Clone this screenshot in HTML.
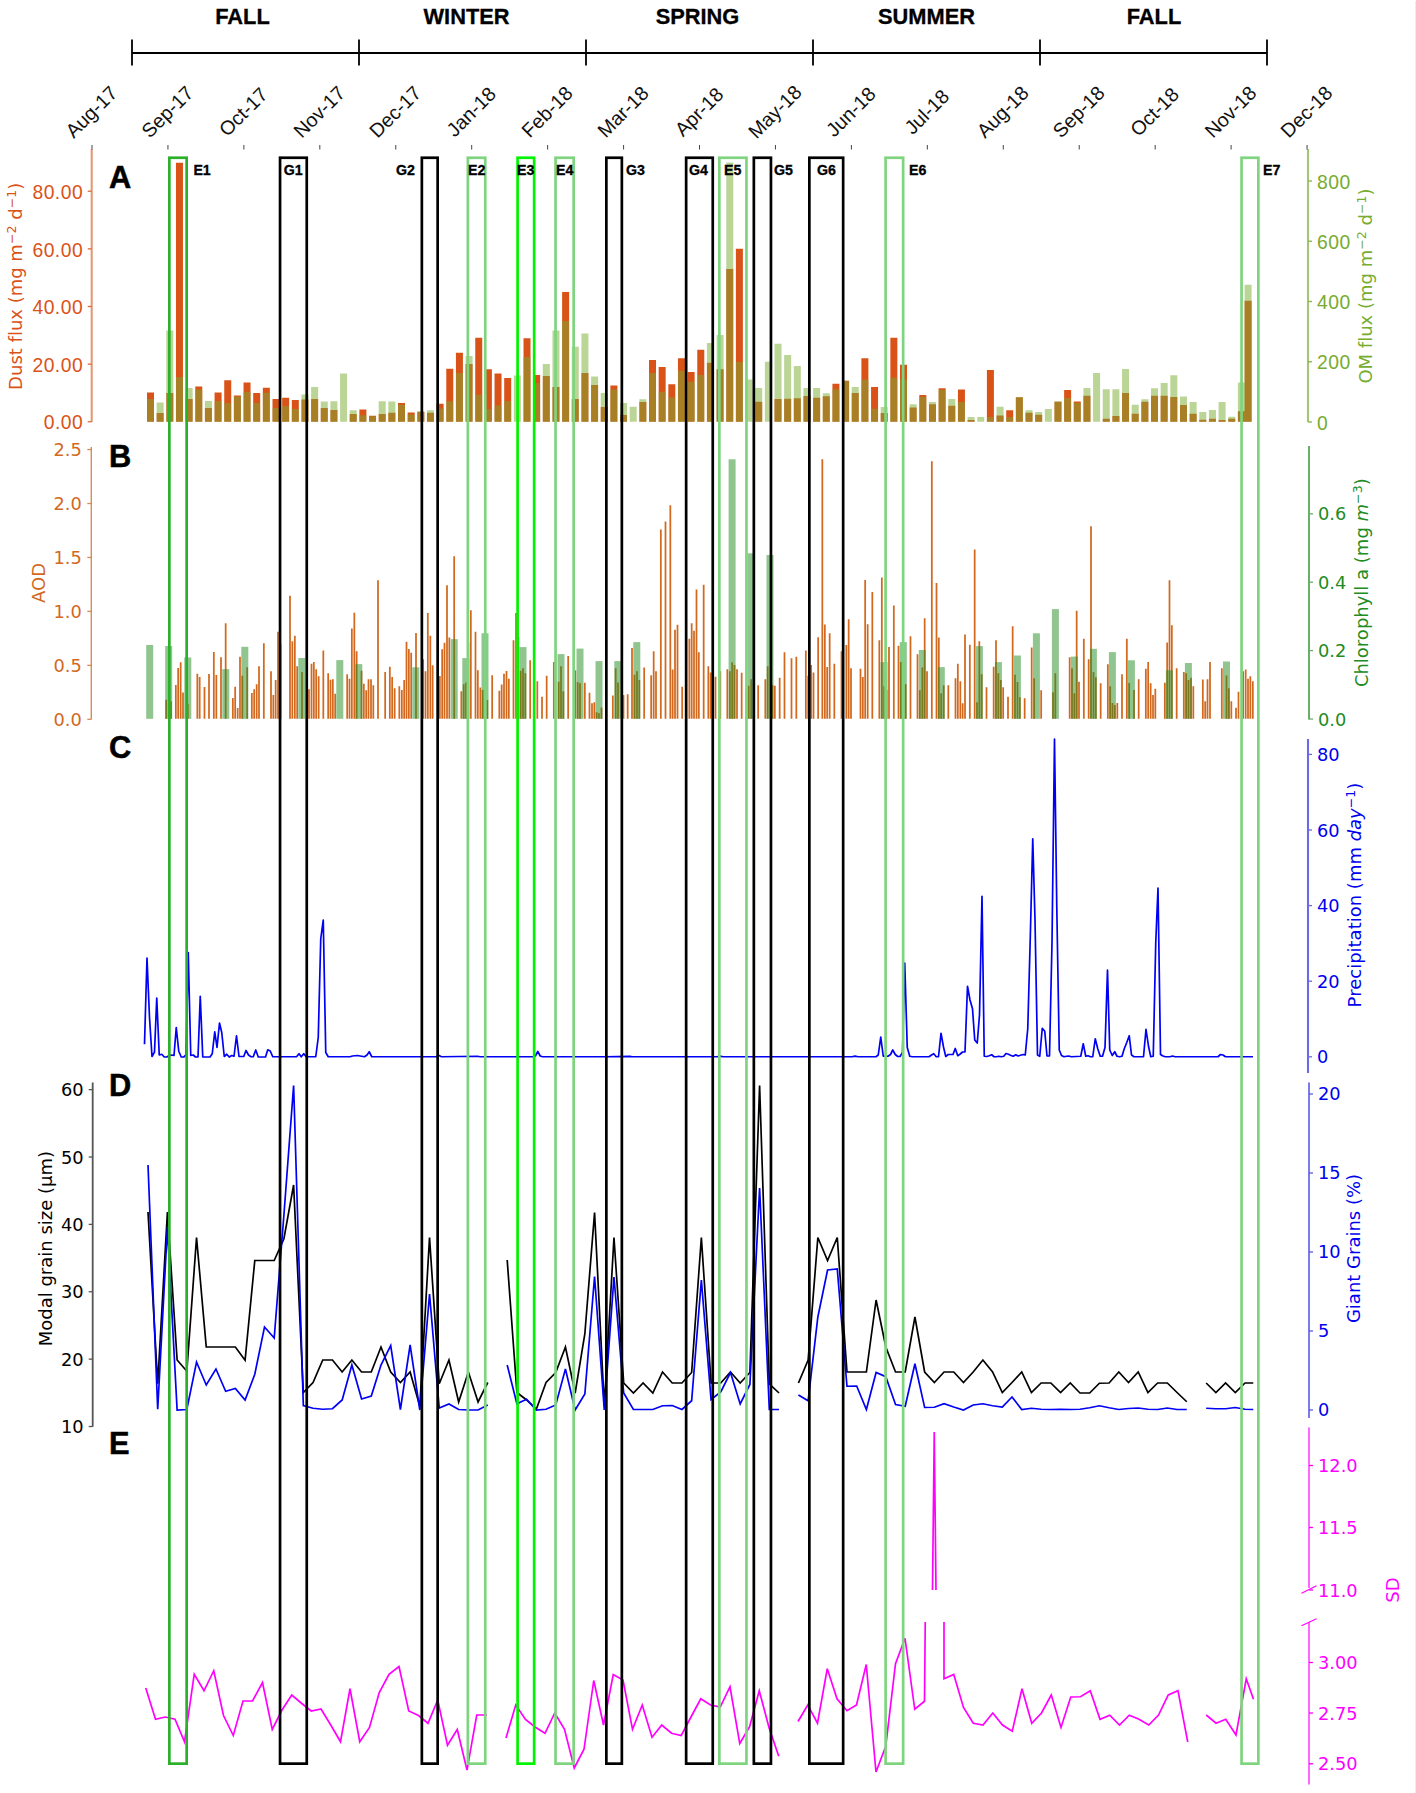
<!DOCTYPE html>
<html lang="en"><head><meta charset="utf-8"><title>Figure</title>
<style>html,body{margin:0;padding:0;background:#fff}svg text{white-space:pre;font-variant-ligatures:none}</style></head>
<body>
<svg width="1416" height="1793" viewBox="0 0 1416 1793" style="display:block">
<rect width="1416" height="1793" fill="#fff"/>
<g stroke="#000" stroke-width="1.8" fill="none">
<path d="M132 53H1267"/>
<path d="M132 39.5V65.5"/>
<path d="M359 39.5V65.5"/>
<path d="M586 39.5V65.5"/>
<path d="M813 39.5V65.5"/>
<path d="M1040 39.5V65.5"/>
<path d="M1267 39.5V65.5"/>
</g>
<text x="242.5" y="24" text-anchor="middle" font-family='"Liberation Sans", sans-serif' font-weight="700" font-size="21.8" stroke="#000" stroke-width="0.3">FALL</text>
<text x="466.5" y="24" text-anchor="middle" font-family='"Liberation Sans", sans-serif' font-weight="700" font-size="21.8" stroke="#000" stroke-width="0.3">WINTER</text>
<text x="697.5" y="24" text-anchor="middle" font-family='"Liberation Sans", sans-serif' font-weight="700" font-size="21.8" stroke="#000" stroke-width="0.3">SPRING</text>
<text x="926.5" y="24" text-anchor="middle" font-family='"Liberation Sans", sans-serif' font-weight="700" font-size="21.8" stroke="#000" stroke-width="0.3">SUMMER</text>
<text x="1154" y="24" text-anchor="middle" font-family='"Liberation Sans", sans-serif' font-weight="700" font-size="21.8" stroke="#000" stroke-width="0.3">FALL</text>
<text class="mon" transform="translate(91.3,111.7) rotate(-45)" text-anchor="middle" dominant-baseline="central" font-family='"Liberation Sans", sans-serif' font-size="19.7" fill="#111">Aug-17</text>
<text class="mon" transform="translate(167.24,111.7) rotate(-45)" text-anchor="middle" dominant-baseline="central" font-family='"Liberation Sans", sans-serif' font-size="19.7" fill="#111">Sep-17</text>
<text class="mon" transform="translate(243.18,111.7) rotate(-45)" text-anchor="middle" dominant-baseline="central" font-family='"Liberation Sans", sans-serif' font-size="19.7" fill="#111">Oct-17</text>
<text class="mon" transform="translate(319.12,111.7) rotate(-45)" text-anchor="middle" dominant-baseline="central" font-family='"Liberation Sans", sans-serif' font-size="19.7" fill="#111">Nov-17</text>
<text class="mon" transform="translate(395.06,111.7) rotate(-45)" text-anchor="middle" dominant-baseline="central" font-family='"Liberation Sans", sans-serif' font-size="19.7" fill="#111">Dec-17</text>
<text class="mon" transform="translate(471,111.7) rotate(-45)" text-anchor="middle" dominant-baseline="central" font-family='"Liberation Sans", sans-serif' font-size="19.7" fill="#111">Jan-18</text>
<text class="mon" transform="translate(546.94,111.7) rotate(-45)" text-anchor="middle" dominant-baseline="central" font-family='"Liberation Sans", sans-serif' font-size="19.7" fill="#111">Feb-18</text>
<text class="mon" transform="translate(622.88,111.7) rotate(-45)" text-anchor="middle" dominant-baseline="central" font-family='"Liberation Sans", sans-serif' font-size="19.7" fill="#111">Mar-18</text>
<text class="mon" transform="translate(698.82,111.7) rotate(-45)" text-anchor="middle" dominant-baseline="central" font-family='"Liberation Sans", sans-serif' font-size="19.7" fill="#111">Apr-18</text>
<text class="mon" transform="translate(774.76,111.7) rotate(-45)" text-anchor="middle" dominant-baseline="central" font-family='"Liberation Sans", sans-serif' font-size="19.7" fill="#111">May-18</text>
<text class="mon" transform="translate(850.7,111.7) rotate(-45)" text-anchor="middle" dominant-baseline="central" font-family='"Liberation Sans", sans-serif' font-size="19.7" fill="#111">Jun-18</text>
<text class="mon" transform="translate(926.64,111.7) rotate(-45)" text-anchor="middle" dominant-baseline="central" font-family='"Liberation Sans", sans-serif' font-size="19.7" fill="#111">Jul-18</text>
<text class="mon" transform="translate(1002.58,111.7) rotate(-45)" text-anchor="middle" dominant-baseline="central" font-family='"Liberation Sans", sans-serif' font-size="19.7" fill="#111">Aug-18</text>
<text class="mon" transform="translate(1078.52,111.7) rotate(-45)" text-anchor="middle" dominant-baseline="central" font-family='"Liberation Sans", sans-serif' font-size="19.7" fill="#111">Sep-18</text>
<text class="mon" transform="translate(1154.46,111.7) rotate(-45)" text-anchor="middle" dominant-baseline="central" font-family='"Liberation Sans", sans-serif' font-size="19.7" fill="#111">Oct-18</text>
<text class="mon" transform="translate(1230.4,111.7) rotate(-45)" text-anchor="middle" dominant-baseline="central" font-family='"Liberation Sans", sans-serif' font-size="19.7" fill="#111">Nov-18</text>
<text class="mon" transform="translate(1306.34,111.7) rotate(-45)" text-anchor="middle" dominant-baseline="central" font-family='"Liberation Sans", sans-serif' font-size="19.7" fill="#111">Dec-18</text>
<g fill="#d95319">
<rect x="147" y="392.5" width="7" height="29.25"/>
<rect x="156.65" y="413" width="7" height="8.75"/>
<rect x="166.31" y="393" width="7" height="28.75"/>
<rect x="175.96" y="162.75" width="7" height="259"/>
<rect x="185.62" y="399" width="7" height="22.75"/>
<rect x="195.27" y="386.5" width="7" height="35.25"/>
<rect x="204.92" y="408" width="7" height="13.75"/>
<rect x="214.58" y="392.5" width="7" height="29.25"/>
<rect x="224.23" y="380.25" width="7" height="41.5"/>
<rect x="233.89" y="395.5" width="7" height="26.25"/>
<rect x="243.54" y="382.5" width="7" height="39.25"/>
<rect x="253.19" y="393" width="7" height="28.75"/>
<rect x="262.85" y="387.75" width="7" height="34"/>
<rect x="272.5" y="399" width="7" height="22.75"/>
<rect x="282.16" y="397.75" width="7" height="24"/>
<rect x="291.81" y="400" width="7" height="21.75"/>
<rect x="301.46" y="399.5" width="7" height="22.25"/>
<rect x="311.12" y="399" width="7" height="22.75"/>
<rect x="320.77" y="408" width="7" height="13.75"/>
<rect x="330.43" y="410" width="7" height="11.75"/>
<rect x="349.73" y="414" width="7" height="7.75"/>
<rect x="359.39" y="409.5" width="7" height="12.25"/>
<rect x="369.04" y="415.75" width="7" height="6"/>
<rect x="378.7" y="414" width="7" height="7.75"/>
<rect x="388.35" y="412.75" width="7" height="9"/>
<rect x="398" y="403" width="7" height="18.75"/>
<rect x="407.66" y="412.5" width="7" height="9.25"/>
<rect x="417.31" y="412" width="7" height="9.75"/>
<rect x="426.97" y="412.75" width="7" height="9"/>
<rect x="436.62" y="403.75" width="7" height="18"/>
<rect x="446.27" y="368.75" width="7" height="53"/>
<rect x="455.93" y="352.75" width="7" height="69"/>
<rect x="465.58" y="364" width="7" height="57.75"/>
<rect x="475.24" y="337.75" width="7" height="84"/>
<rect x="484.89" y="369.25" width="7" height="52.5"/>
<rect x="494.54" y="373.5" width="7" height="48.25"/>
<rect x="504.2" y="378" width="7" height="43.75"/>
<rect x="523.51" y="338.25" width="7" height="83.5"/>
<rect x="533.16" y="375" width="7" height="46.75"/>
<rect x="542.81" y="376" width="7" height="45.75"/>
<rect x="552.47" y="387" width="7" height="34.75"/>
<rect x="562.12" y="291.95" width="7" height="129.8"/>
<rect x="571.78" y="399" width="7" height="22.75"/>
<rect x="581.43" y="373" width="7" height="48.75"/>
<rect x="591.08" y="385" width="7" height="36.75"/>
<rect x="600.74" y="407" width="7" height="14.75"/>
<rect x="610.39" y="385.5" width="7" height="36.25"/>
<rect x="620.05" y="415" width="7" height="6.75"/>
<rect x="639.35" y="402" width="7" height="19.75"/>
<rect x="649.01" y="360" width="7" height="61.75"/>
<rect x="658.66" y="367" width="7" height="54.75"/>
<rect x="668.32" y="384.25" width="7" height="37.5"/>
<rect x="677.97" y="358.25" width="7" height="63.5"/>
<rect x="687.62" y="372" width="7" height="49.75"/>
<rect x="697.28" y="349.75" width="7" height="72"/>
<rect x="706.93" y="362.75" width="7" height="59"/>
<rect x="716.59" y="369.25" width="7" height="52.5"/>
<rect x="726.24" y="269" width="7" height="152.75"/>
<rect x="735.89" y="248.75" width="7" height="173"/>
<rect x="755.2" y="401.75" width="7" height="20"/>
<rect x="774.51" y="399" width="7" height="22.75"/>
<rect x="784.16" y="398.75" width="7" height="23"/>
<rect x="793.82" y="398.25" width="7" height="23.5"/>
<rect x="803.47" y="396" width="7" height="25.75"/>
<rect x="813.13" y="397.75" width="7" height="24"/>
<rect x="822.78" y="396.25" width="7" height="25.5"/>
<rect x="832.43" y="383.75" width="7" height="38"/>
<rect x="842.09" y="380.75" width="7" height="41"/>
<rect x="851.74" y="393" width="7" height="28.75"/>
<rect x="861.4" y="358.25" width="7" height="63.5"/>
<rect x="871.05" y="387" width="7" height="34.75"/>
<rect x="880.7" y="413" width="7" height="8.75"/>
<rect x="890.36" y="337.75" width="7" height="84"/>
<rect x="900.01" y="364.75" width="7" height="57"/>
<rect x="909.67" y="407.5" width="7" height="14.25"/>
<rect x="919.32" y="395" width="7" height="26.75"/>
<rect x="928.97" y="404.25" width="7" height="17.5"/>
<rect x="938.63" y="388.25" width="7" height="33.5"/>
<rect x="948.28" y="405.75" width="7" height="16"/>
<rect x="957.94" y="389.5" width="7" height="32.25"/>
<rect x="967.59" y="420" width="7" height="1.75"/>
<rect x="986.9" y="370" width="7" height="51.75"/>
<rect x="996.55" y="415.5" width="7" height="6.25"/>
<rect x="1006.21" y="410.25" width="7" height="11.5"/>
<rect x="1015.86" y="397.25" width="7" height="24.5"/>
<rect x="1025.51" y="412.75" width="7" height="9"/>
<rect x="1035.17" y="414.75" width="7" height="7"/>
<rect x="1054.48" y="401.75" width="7" height="20"/>
<rect x="1064.13" y="390" width="7" height="31.75"/>
<rect x="1073.78" y="401.5" width="7" height="20.25"/>
<rect x="1083.44" y="395.75" width="7" height="26"/>
<rect x="1102.75" y="418.75" width="7" height="3"/>
<rect x="1112.4" y="416" width="7" height="5.75"/>
<rect x="1122.05" y="393" width="7" height="28.75"/>
<rect x="1131.71" y="413.75" width="7" height="8"/>
<rect x="1141.36" y="401.75" width="7" height="20"/>
<rect x="1151.02" y="395.75" width="7" height="26"/>
<rect x="1160.67" y="395.75" width="7" height="26"/>
<rect x="1170.32" y="397" width="7" height="24.75"/>
<rect x="1179.98" y="405" width="7" height="16.75"/>
<rect x="1189.63" y="413.75" width="7" height="8"/>
<rect x="1199.29" y="419.75" width="7" height="2"/>
<rect x="1208.94" y="418.75" width="7" height="3"/>
<rect x="1218.59" y="420" width="7" height="1.75"/>
<rect x="1228.25" y="418.75" width="7" height="3"/>
<rect x="1237.9" y="411.25" width="7" height="10.5"/>
<rect x="1244.6" y="300.75" width="7" height="121"/>
</g>
<g fill="#77ac30" fill-opacity="0.5">
<rect x="147" y="399" width="7" height="22.75"/>
<rect x="156.65" y="402.5" width="7" height="19.25"/>
<rect x="166.31" y="330.5" width="7" height="91.25"/>
<rect x="175.96" y="377" width="7" height="44.75"/>
<rect x="185.62" y="388" width="7" height="33.75"/>
<rect x="195.27" y="389.5" width="7" height="32.25"/>
<rect x="204.92" y="401" width="7" height="20.75"/>
<rect x="214.58" y="401" width="7" height="20.75"/>
<rect x="224.23" y="403" width="7" height="18.75"/>
<rect x="233.89" y="396.5" width="7" height="25.25"/>
<rect x="243.54" y="391.75" width="7" height="30"/>
<rect x="253.19" y="403" width="7" height="18.75"/>
<rect x="262.85" y="392.75" width="7" height="29"/>
<rect x="272.5" y="408" width="7" height="13.75"/>
<rect x="282.16" y="406" width="7" height="15.75"/>
<rect x="291.81" y="409" width="7" height="12.75"/>
<rect x="301.46" y="394.5" width="7" height="27.25"/>
<rect x="311.12" y="387" width="7" height="34.75"/>
<rect x="320.77" y="401.5" width="7" height="20.25"/>
<rect x="330.43" y="401.25" width="7" height="20.5"/>
<rect x="340.08" y="373.5" width="7" height="48.25"/>
<rect x="349.73" y="410.25" width="7" height="11.5"/>
<rect x="359.39" y="415.25" width="7" height="6.5"/>
<rect x="369.04" y="416.25" width="7" height="5.5"/>
<rect x="378.7" y="401.25" width="7" height="20.5"/>
<rect x="388.35" y="401.5" width="7" height="20.25"/>
<rect x="398" y="404.75" width="7" height="17"/>
<rect x="407.66" y="414.5" width="7" height="7.25"/>
<rect x="417.31" y="411" width="7" height="10.75"/>
<rect x="426.97" y="410.25" width="7" height="11.5"/>
<rect x="436.62" y="408.5" width="7" height="13.25"/>
<rect x="446.27" y="401.25" width="7" height="20.5"/>
<rect x="455.93" y="373" width="7" height="48.75"/>
<rect x="465.58" y="356" width="7" height="65.75"/>
<rect x="475.24" y="394.75" width="7" height="27"/>
<rect x="484.89" y="409.25" width="7" height="12.5"/>
<rect x="494.54" y="405.5" width="7" height="16.25"/>
<rect x="504.2" y="401" width="7" height="20.75"/>
<rect x="513.85" y="375.5" width="7" height="46.25"/>
<rect x="523.51" y="357" width="7" height="64.75"/>
<rect x="533.16" y="383" width="7" height="38.75"/>
<rect x="542.81" y="364" width="7" height="57.75"/>
<rect x="552.47" y="330.5" width="7" height="91.25"/>
<rect x="562.12" y="321" width="7" height="100.75"/>
<rect x="571.78" y="346.75" width="7" height="75"/>
<rect x="581.43" y="333.5" width="7" height="88.25"/>
<rect x="591.08" y="376.5" width="7" height="45.25"/>
<rect x="600.74" y="393" width="7" height="28.75"/>
<rect x="610.39" y="389.5" width="7" height="32.25"/>
<rect x="620.05" y="403" width="7" height="18.75"/>
<rect x="629.7" y="406.75" width="7" height="15"/>
<rect x="639.35" y="399.25" width="7" height="22.5"/>
<rect x="649.01" y="373" width="7" height="48.75"/>
<rect x="658.66" y="391.75" width="7" height="30"/>
<rect x="668.32" y="397.25" width="7" height="24.5"/>
<rect x="677.97" y="370.75" width="7" height="51"/>
<rect x="687.62" y="381.75" width="7" height="40"/>
<rect x="697.28" y="375" width="7" height="46.75"/>
<rect x="706.93" y="343" width="7" height="78.75"/>
<rect x="716.59" y="335" width="7" height="86.75"/>
<rect x="726.24" y="162.5" width="7" height="259.25"/>
<rect x="735.89" y="362" width="7" height="59.75"/>
<rect x="745.55" y="379.5" width="7" height="42.25"/>
<rect x="755.2" y="388" width="7" height="33.75"/>
<rect x="764.86" y="361.75" width="7" height="60"/>
<rect x="774.51" y="343.75" width="7" height="78"/>
<rect x="784.16" y="355" width="7" height="66.75"/>
<rect x="793.82" y="366" width="7" height="55.75"/>
<rect x="803.47" y="388" width="7" height="33.75"/>
<rect x="813.13" y="388" width="7" height="33.75"/>
<rect x="822.78" y="393.25" width="7" height="28.5"/>
<rect x="832.43" y="389.25" width="7" height="32.5"/>
<rect x="842.09" y="380.75" width="7" height="41"/>
<rect x="851.74" y="387" width="7" height="34.75"/>
<rect x="861.4" y="379.5" width="7" height="42.25"/>
<rect x="871.05" y="408.75" width="7" height="13"/>
<rect x="880.7" y="407" width="7" height="14.75"/>
<rect x="890.36" y="377.75" width="7" height="44"/>
<rect x="900.01" y="379.5" width="7" height="42.25"/>
<rect x="909.67" y="404.25" width="7" height="17.5"/>
<rect x="919.32" y="396.75" width="7" height="25"/>
<rect x="928.97" y="402" width="7" height="19.75"/>
<rect x="938.63" y="389.75" width="7" height="32"/>
<rect x="948.28" y="399" width="7" height="22.75"/>
<rect x="957.94" y="402" width="7" height="19.75"/>
<rect x="967.59" y="417" width="7" height="4.75"/>
<rect x="977.24" y="417" width="7" height="4.75"/>
<rect x="986.9" y="417" width="7" height="4.75"/>
<rect x="996.55" y="406.75" width="7" height="15"/>
<rect x="1006.21" y="417" width="7" height="4.75"/>
<rect x="1015.86" y="397.25" width="7" height="24.5"/>
<rect x="1025.51" y="410.25" width="7" height="11.5"/>
<rect x="1035.17" y="412" width="7" height="9.75"/>
<rect x="1044.82" y="409" width="7" height="12.75"/>
<rect x="1054.48" y="401.25" width="7" height="20.5"/>
<rect x="1064.13" y="398" width="7" height="23.75"/>
<rect x="1073.78" y="402.75" width="7" height="19"/>
<rect x="1083.44" y="388" width="7" height="33.75"/>
<rect x="1093.09" y="373" width="7" height="48.75"/>
<rect x="1102.75" y="389.25" width="7" height="32.5"/>
<rect x="1112.4" y="389.25" width="7" height="32.5"/>
<rect x="1122.05" y="369" width="7" height="52.75"/>
<rect x="1131.71" y="404.75" width="7" height="17"/>
<rect x="1141.36" y="399.25" width="7" height="22.5"/>
<rect x="1151.02" y="388.25" width="7" height="33.5"/>
<rect x="1160.67" y="383" width="7" height="38.75"/>
<rect x="1170.32" y="375.25" width="7" height="46.5"/>
<rect x="1179.98" y="396.5" width="7" height="25.25"/>
<rect x="1189.63" y="402" width="7" height="19.75"/>
<rect x="1199.29" y="412" width="7" height="9.75"/>
<rect x="1208.94" y="410" width="7" height="11.75"/>
<rect x="1218.59" y="402" width="7" height="19.75"/>
<rect x="1228.25" y="416.75" width="7" height="5"/>
<rect x="1237.9" y="382.5" width="7" height="39.25"/>
<rect x="1244.6" y="284.75" width="7" height="137"/>
</g>
<path d="M166.17 718.8v-19.17M171 718.8v-17.5M175.83 718.8v-33.83M178.17 718.8v-50.83M180.67 718.8v-56.5M183 718.8v-26.33M187.83 718.8v-15.17M197.33 718.8v-45.17M199.67 718.8v-41.83M204.5 718.8v-31.83M209 718.8v-44.83M213.83 718.8v-66.83M216.33 718.8v-43.83M221 718.8v-61.5M225.67 718.8v-95.5M232.83 718.8v-20.83M235.17 718.8v-32.17M237.67 718.8v-10.83M240 718.8v-62.17M242.33 718.8v-43.17M247.17 718.8v-51.5M251.83 718.8v-25.83M254.17 718.8v-29.67M256.67 718.8v-34.67M259 718.8v-52.5M263.83 718.8v-75.5M271 718.8v-47.5M273.33 718.8v-23.83M275.67 718.8v-38.83M278 718.8v-87.17M280.5 718.8v-74.67M290 718.8v-123M292.33 718.8v-77.67M294.83 718.8v-83M297.17 718.8v-52.5M302 718.8v-46.83M309 718.8v-29.67M311.5 718.8v-55.17M313.83 718.8v-56.83M316.17 718.8v-49.67M318.67 718.8v-42.67M323.33 718.8v-68.33M328.17 718.8v-45.5M330.5 718.8v-39.17M332.83 718.8v-39.5M335.17 718.8v-25.17M347.17 718.8v-44.67M349.5 718.8v-40M351.83 718.8v-90.33M354.33 718.8v-106.17M356.67 718.8v-67.67M361.5 718.8v-48M363.83 718.8v-35.17M366.17 718.8v-28.5M368.5 718.8v-39.67M371 718.8v-39.67M373.33 718.8v-33.5M378 718.8v-138.5M385.17 718.8v-46.83M389.83 718.8v-52.17M392.17 718.8v-41.83M394.67 718.8v-30.5M399.33 718.8v-32.5M401.83 718.8v-28.83M404.17 718.8v-38.83M406.5 718.8v-77.17M408.83 718.8v-69.83M411.17 718.8v-66.17M416 718.8v-85.83M423.17 718.8v-59.67M425.5 718.8v-47.67M427.83 718.8v-105.83M430.33 718.8v-83M432.67 718.8v-53.5M439.83 718.8v-42.83M442.17 718.8v-69.67M444.5 718.8v-76M447 718.8v-133.5M449.33 718.8v-81.33M454.17 718.8v-162.5M461.33 718.8v-27.5M463.67 718.8v-34.67M466 718.8v-36.33M468.33 718.8v-76.33M470.83 718.8v-108.5M475.5 718.8v-87.17M477.83 718.8v-48.5M480.33 718.8v-31.33M482.67 718.8v-28.83M485 718.8v-41.33M487.33 718.8v-18.83M492.17 718.8v-43.5M499.33 718.8v-28.17M501.67 718.8v-34.33M504 718.8v-45.17M506.5 718.8v-47.83M508.83 718.8v-40.17M513.5 718.8v-78.5M516 718.8v-105.83M518.33 718.8v-81.83M520.67 718.8v-48M523 718.8v-50.5M525.33 718.8v-45.5M530.17 718.8v-58.5M537.33 718.8v-37.67M542 718.8v-22.17M546.67 718.8v-43M553.83 718.8v-56.83M558.67 718.8v-37.17M561 718.8v-52.67M563.33 718.8v-27.5M568.17 718.8v-62.83M575.33 718.8v-48.5M577.67 718.8v-36.83M580 718.8v-35.5M584.83 718.8v-36M589.5 718.8v-26.17M592 718.8v-15.5M594.33 718.8v-16.67M596.67 718.8v-6.67M599 718.8v-5.5M601.5 718.8v-11.33M612.83 718.8v-23.33M615.67 718.8v-50.5M618 718.8v-36.33M623.5 718.8v-23.83M627.67 718.8v-24.67M632 718.8v-70.83M634.5 718.8v-44.17M637 718.8v-47.67M639.33 718.8v-38.83M644.17 718.8v-51.33M651.17 718.8v-43.5M653.67 718.8v-67.5M656 718.8v-47.67M660.83 718.8v-189.33M665.5 718.8v-197.33M670.33 718.8v-213.5M672.67 718.8v-49.33M675 718.8v-89.17M677.5 718.8v-94.17M682.17 718.8v-32.17M689.33 718.8v-80M691.67 718.8v-95.5M694 718.8v-88M696.5 718.8v-129.33M698.83 718.8v-66.67M703.67 718.8v-134.17M708.33 718.8v-52.67M710.67 718.8v-46.33M715.5 718.8v-42.17M720.33 718.8v-47.67M727.33 718.8v-49.67M729.83 718.8v-47.67M732.17 718.8v-56.67M734.5 718.8v-53.83M737 718.8v-49.67M741.67 718.8v-46M746.33 718.8v-28.83M748.67 718.8v-33M751.17 718.8v-39.67M758.17 718.8v-33.5M765.33 718.8v-39.67M767.67 718.8v-52.67M772.5 718.8v-33.83M774.83 718.8v-33M779.67 718.8v-41M784.5 718.8v-66.67M791.5 718.8v-60.5M796.33 718.8v-62.17M805.83 718.8v-68.33M808.17 718.8v-43M811.17 718.8v-53.83M813.5 718.8v-46.33M818.17 718.8v-81.67M822.33 718.8v-259.5M824.83 718.8v-94.33M827.17 718.8v-51.83M829.67 718.8v-85.67M834.33 718.8v-55M841.5 718.8v-67.5M846.33 718.8v-73.83M848.67 718.8v-99.67M851 718.8v-50.5M860.5 718.8v-50M862.83 718.8v-41.83M865.17 718.8v-138.83M867.67 718.8v-94.5M872.33 718.8v-126.83M879.33 718.8v-78.5M881.83 718.8v-141.33M884.17 718.8v-32.67M886.5 718.8v-28.83M889 718.8v-71.83M893.83 718.8v-113.33M898.5 718.8v-73.17M900.83 718.8v-56.83M903.17 718.8v-59.33M905.67 718.8v-34.67M910.5 718.8v-82.67M917.5 718.8v-64.67M919.83 718.8v-28.5M922.33 718.8v-51.33M924.67 718.8v-100.5M927 718.8v-47.5M931.83 718.8v-257.5M936.5 718.8v-135.83M938.83 718.8v-81.33M941.17 718.8v-25.5M943.67 718.8v-33.5M948.33 718.8v-33.5M955.5 718.8v-40.5M957.83 718.8v-55M960.33 718.8v-37.67M962.67 718.8v-15.5M965 718.8v-84.33M969.83 718.8v-74.17M974.67 718.8v-169.33M977 718.8v-16.67M979.33 718.8v-77.5M981.67 718.8v-44.5M986.5 718.8v-31.67M993.67 718.8v-52.17M996 718.8v-78.5M998.33 718.8v-45.5M1000.83 718.8v-38.83M1003.17 718.8v-31.67M1008 718.8v-22.17M1012.67 718.8v-92.5M1015 718.8v-44.17M1017.5 718.8v-36.83M1019.83 718.8v-21.67M1024.67 718.8v-20.5M1031.67 718.8v-71.33M1034.17 718.8v-40.5M1041.17 718.8v-28.5M1053 718.8v-26.67M1055.33 718.8v-45.5M1069.67 718.8v-61.5M1072 718.8v-50.5M1074.33 718.8v-25.5M1076.67 718.8v-108M1079 718.8v-37.17M1083.83 718.8v-80.17M1088.67 718.8v-59.67M1091 718.8v-192.67M1093.5 718.8v-46.83M1095.83 718.8v-41.67M1100.67 718.8v-35.5M1107.83 718.8v-54.67M1110.17 718.8v-32.67M1112.5 718.8v-15.83M1114.83 718.8v-13.83M1117.33 718.8v-15.83M1122 718.8v-44.67M1126.83 718.8v-80.17M1129.17 718.8v-35.83M1134 718.8v-28.83M1138.67 718.8v-39.67M1145.83 718.8v-50M1148.17 718.8v-56.83M1150.67 718.8v-35.5M1153 718.8v-23.83M1155.33 718.8v-30M1164.83 718.8v-36M1167.17 718.8v-76.33M1169.5 718.8v-138.5M1171.83 718.8v-93.5M1176.67 718.8v-50.5M1183.83 718.8v-46.83M1186.17 718.8v-45.5M1188.5 718.8v-38.83M1191 718.8v-41M1193.33 718.8v-32.67M1202.83 718.8v-39.33M1205.17 718.8v-17.67M1207.5 718.8v-39.67M1210 718.8v-56.83M1221.83 718.8v-50.5M1226.5 718.8v-43.33M1228.83 718.8v-30.5M1231.33 718.8v-17.67M1236 718.8v-11M1238.5 718.8v-27.17M1243.17 718.8v-47.5M1245.67 718.8v-49.33M1248 718.8v-40M1250.33 718.8v-42.67M1252.83 718.8v-37.67" stroke="#d2691e" stroke-width="1.75" fill="none"/>
<g fill="#228b22" fill-opacity="0.5">
<rect x="146.2" y="645" width="7" height="73.8"/>
<rect x="165.2" y="646" width="7" height="72.8"/>
<rect x="184.3" y="657.5" width="7" height="61.3"/>
<rect x="222.3" y="669.1" width="7" height="49.7"/>
<rect x="241.3" y="646.8" width="7" height="72"/>
<rect x="298.3" y="658" width="7" height="60.8"/>
<rect x="336.3" y="660.1" width="7" height="58.7"/>
<rect x="355.3" y="664.1" width="7" height="54.7"/>
<rect x="412.3" y="667.3" width="7" height="51.5"/>
<rect x="450.7" y="639.1" width="7" height="79.7"/>
<rect x="462.3" y="658.1" width="7" height="60.7"/>
<rect x="481.5" y="633.3" width="7" height="85.5"/>
<rect x="519.5" y="647.1" width="7" height="71.7"/>
<rect x="557.5" y="654.1" width="7" height="64.7"/>
<rect x="576.5" y="648.6" width="7" height="70.2"/>
<rect x="595.5" y="661.1" width="7" height="57.7"/>
<rect x="614.3" y="661.1" width="7" height="57.7"/>
<rect x="633.3" y="642.1" width="7" height="76.7"/>
<rect x="728.6" y="459.3" width="7" height="259.5"/>
<rect x="747.5" y="553.3" width="7" height="165.5"/>
<rect x="766.5" y="555" width="7" height="163.8"/>
<rect x="880.6" y="662.1" width="7" height="56.7"/>
<rect x="899.8" y="642.1" width="7" height="76.7"/>
<rect x="918.8" y="650" width="7" height="68.8"/>
<rect x="937.8" y="667.1" width="7" height="51.7"/>
<rect x="975.9" y="646.1" width="7" height="72.7"/>
<rect x="994.9" y="662.1" width="7" height="56.7"/>
<rect x="1013.9" y="655.5" width="7" height="63.3"/>
<rect x="1032.9" y="633.3" width="7" height="85.5"/>
<rect x="1051.9" y="609.1" width="7" height="109.7"/>
<rect x="1070.9" y="656.6" width="7" height="62.2"/>
<rect x="1089.9" y="648.8" width="7" height="70"/>
<rect x="1108.9" y="652.1" width="7" height="66.7"/>
<rect x="1127.9" y="660.3" width="7" height="58.5"/>
<rect x="1165.9" y="670.3" width="7" height="48.5"/>
<rect x="1184.9" y="663" width="7" height="55.8"/>
<rect x="1223" y="661.5" width="7" height="57.3"/>
</g>
<polyline points="144.5,1044.25 147,958 149.5,1017.5 152,1056.5 154.5,1052 156.75,998 159.25,1055 161.75,1054.25 164.25,1057 166.75,1057 169.25,1055.5 171.5,1055 174,1055.5 176.25,1027.5 178.75,1051.25 181.25,1057 183.75,1057 186,1055 188.25,952.5 190.75,1055.5 193.25,1055 195.5,1057 198,1057 200.25,996.25 202.75,1057 210,1057 212.25,1053.75 214.75,1031.75 217,1047.5 219.5,1023 221.75,1032.5 224.25,1056.5 226.75,1054.25 229.25,1057 231.75,1055.5 234,1056.25 236.5,1035.75 239,1056.5 243.75,1056.5 246,1050.5 248.5,1055 251,1056.75 253.25,1056.75 255.75,1050 258.25,1057 265.5,1057 267.75,1049.75 270.25,1051 272.75,1056.75 296.5,1056.75 299,1053.75 301.25,1056.75 303.75,1053.75 306.25,1056.75 315.75,1056.75 318.25,1037.5 320.75,938.75 323.25,920 325.75,1052.5 328.25,1056.75 350,1056.75 352.5,1056 357.25,1055.5 364.5,1056.75 367,1055 369.25,1051.75 371.75,1056.75 436.25,1056.75 439,1055.5 441.5,1056.75 477.5,1056.25 480,1056.75 484,1056.75 533,1056.75 535.4,1056 537.8,1051.5 540.2,1056 542.6,1056.75 605,1056.75 630,1056.4 632,1056.75 717,1056.75 720,1056.2 723,1056.75 852,1056.75 855,1056.2 858,1056.75 860,1056.75 876,1056.75 878.25,1055 880.75,1037 883.25,1056.25 888,1056.25 890.5,1054.5 892.75,1050 895.25,1054.5 897.75,1056.5 900,1056.5 902.5,1052.5 904.75,963 907.25,1047.5 909.75,1056.25 912.25,1056.75 929,1056.75 931.5,1055 933.75,1053.75 936.25,1056.75 938.5,1056.75 941,1033.25 943.5,1047 945.75,1056.5 948.25,1054.5 950.5,1054.5 953,1054.5 955.25,1048.5 957.75,1055.75 960.25,1054 962.5,1052 965,1052 967.5,986.25 970,1000 972.5,1008.75 974.75,1040 977.25,1043 979.5,1015 982,896.25 984.25,1056.25 986.75,1056.5 989.25,1055.75 991.75,1054.75 994,1056.75 996.5,1056.75 998.75,1056.25 1001.25,1056.75 1003.75,1056.25 1006,1053.5 1008.5,1054.25 1011,1055.5 1013.25,1056.25 1015.75,1054.75 1018,1056 1020.5,1055.25 1023,1054.5 1025.25,1055 1027.75,1028.75 1030.25,938.75 1032.75,838.75 1035,920 1037.5,1055 1039.75,1056.25 1042.25,1028.25 1044.75,1031.25 1047,1056 1049.5,1056 1052,942.5 1054.5,739 1056.75,905 1059.25,1050 1061.5,1055.5 1064,1056.75 1066.5,1056.25 1068.75,1056 1071.25,1056.75 1080.75,1056.25 1083.25,1043.75 1085.75,1056.25 1088,1055.75 1090.5,1056.75 1092.75,1056.75 1095.25,1038.75 1097.75,1048.75 1100.25,1056.25 1102.5,1056.25 1105,1047.5 1107.5,970 1109.75,1050 1112.25,1055.5 1114.75,1051.75 1117,1056.25 1119.5,1056.75 1122,1056.25 1124.25,1048.75 1126.75,1042.5 1129.25,1035.75 1131.5,1055 1134,1056.75 1143.5,1056.75 1146,1029.25 1148.5,1046.25 1150.75,1056.75 1153.25,1056.25 1155.75,942.5 1158,888 1160.5,1054.5 1163,1056 1165.25,1056.75 1170,1056.75 1172.5,1056 1175,1056.75 1214,1056.75 1218,1056.75 1220.5,1054.5 1223,1055 1225.5,1056.75 1253,1056.75" fill="none" stroke="#0000f5" stroke-width="1.7" stroke-linejoin="round"/>
<polyline points="148,1212 157.71,1383.75 167.42,1212 177.12,1360 186.83,1371.25 196.54,1237.5 206.25,1347 215.96,1347 225.66,1347 235.37,1347 245.08,1360.25 254.79,1260.5 264.5,1260.5 274.2,1260.5 283.91,1238.75 293.62,1185 303.33,1392.5 313.04,1382.5 322.74,1360 332.45,1360 342.16,1372 351.87,1360 361.58,1372 371.28,1372 380.99,1347 390.7,1372 400.41,1382.5 410.12,1372 419.82,1406.25 429.53,1237.5 439.24,1383.75 448.95,1360 458.66,1402 468.36,1372 478.07,1402 487.78,1382.5" fill="none" stroke="#000" stroke-width="1.7" stroke-linejoin="miter"/>
<polyline points="507.2,1260 516.9,1392.5 526.61,1400 536.32,1409.25 546.03,1382.5 555.74,1372.5 565.44,1347 575.15,1393 584.86,1333.75 594.57,1212.5 604.28,1406.25 613.98,1237.5 623.69,1383 633.4,1393 643.11,1383 652.82,1393 662.52,1372 672.23,1383 681.94,1383 691.65,1372.5 701.36,1237.5 711.06,1383 720.77,1383 730.48,1372 740.19,1383 749.9,1372.5 759.6,1085.5 769.31,1383.75 779.02,1393" fill="none" stroke="#000" stroke-width="1.7" stroke-linejoin="miter"/>
<polyline points="798.44,1383 808.14,1360 817.85,1237.5 827.56,1260.5 837.27,1237.5 846.98,1372 856.68,1372 866.39,1372 876.1,1300 885.81,1347 895.52,1372 905.22,1372 914.93,1317 924.64,1372 934.35,1382.5 944.06,1372 953.76,1372 963.47,1382.5 973.18,1372 982.89,1360 992.6,1372 1002.3,1392.5 1012.01,1382.5 1021.72,1372 1031.43,1392.5 1041.14,1383 1050.84,1383 1060.55,1392.5 1070.26,1383 1079.97,1393 1089.68,1393 1099.38,1383.25 1109.09,1383 1118.8,1372 1128.51,1382.5 1138.22,1372 1147.92,1392.5 1157.63,1383 1167.34,1383 1177.05,1392.5 1186.76,1401.75" fill="none" stroke="#000" stroke-width="1.7" stroke-linejoin="miter"/>
<polyline points="1206.17,1383 1215.88,1392.5 1225.59,1383 1235.3,1392.5 1245,1383 1253.25,1383" fill="none" stroke="#000" stroke-width="1.7" stroke-linejoin="miter"/>
<polyline points="148,1165 157.71,1409.25 167.42,1227.5 177.12,1410 186.83,1409.5 196.54,1362 206.25,1385 215.96,1369 225.66,1391.25 235.37,1388.5 245.08,1400 254.79,1374.25 264.5,1327 274.2,1338 283.91,1215 293.62,1085.5 303.33,1405.5 313.04,1408.25 322.74,1409.25 332.45,1408.75 342.16,1400 351.87,1365 361.58,1399 371.28,1396 380.99,1365 390.7,1345.5 400.41,1409.5 410.12,1345 419.82,1410 429.53,1294 439.24,1408 448.95,1404 458.66,1409.5 468.36,1410 478.07,1410 487.78,1405" fill="none" stroke="#0000f5" stroke-width="1.7" stroke-linejoin="miter"/>
<polyline points="507.2,1365 516.9,1403.75 526.61,1399.25 536.32,1410 546.03,1409.25 555.74,1405 565.44,1369 575.15,1410 584.86,1394 594.57,1276.5 604.28,1410 613.98,1277 623.69,1393 633.4,1409.5 643.11,1409.5 652.82,1409.5 662.52,1405.75 672.23,1405.5 681.94,1409.5 691.65,1400.75 701.36,1280 711.06,1399.5 720.77,1392 730.48,1372.5 740.19,1404 749.9,1384.5 759.6,1188 769.31,1409.5 779.02,1409.5" fill="none" stroke="#0000f5" stroke-width="1.7" stroke-linejoin="miter"/>
<polyline points="798.44,1395 808.14,1400.75 817.85,1317 827.56,1270 837.27,1269 846.98,1386.25 856.68,1386 866.39,1409.5 876.1,1372.5 885.81,1376.75 895.52,1404.5 905.22,1406.25 914.93,1363.75 924.64,1407.5 934.35,1407.25 944.06,1403.75 953.76,1407 963.47,1410 973.18,1405 982.89,1403.75 992.6,1405.75 1002.3,1407 1012.01,1397 1021.72,1409.5 1031.43,1408.25 1041.14,1409.25 1050.84,1409.5 1060.55,1409.25 1070.26,1409.5 1079.97,1409.25 1089.68,1407.75 1099.38,1405.75 1109.09,1407.75 1118.8,1409.5 1128.51,1408.5 1138.22,1408 1147.92,1409.25 1157.63,1409.5 1167.34,1408 1177.05,1409.5 1186.76,1409.5" fill="none" stroke="#0000f5" stroke-width="1.7" stroke-linejoin="miter"/>
<polyline points="1206.17,1408.25 1215.88,1408.75 1225.59,1408.75 1235.3,1407.5 1245,1409.25 1253.25,1409.5" fill="none" stroke="#0000f5" stroke-width="1.7" stroke-linejoin="miter"/>
<polyline points="145.75,1688 155.5,1719.25 165.25,1717 175,1719.25 184.5,1741.75 194.25,1674.25 204,1690.75 213.75,1670.75 223.5,1715.5 233.25,1735.5 243,1701 252.5,1701 262.5,1682.5 272.25,1729.5 282,1710 291.75,1695 301.5,1703.25 311.25,1711 321,1709 330.75,1725 340.5,1741.75 350,1688.75 359.75,1741.75 369.5,1727.5 379.25,1692.5 389,1674.25 399,1666.5 408.75,1711 418.5,1715.5 428,1723.25 437.75,1700 447.5,1745.25 457.25,1729.5 467,1770 476.75,1715 487,1715" fill="none" stroke="#ff00ff" stroke-width="1.7" stroke-linejoin="miter"/>
<polyline points="506,1738 515.75,1705 525.5,1719.5 535,1727 545,1733.25 554.75,1713 564.5,1729.25 574.25,1768 584,1749.25 593.75,1680.5 603.5,1725 613.25,1674.5 623,1680 632.5,1729.25 642.25,1705 652,1737.25 661.75,1725 671.5,1733.25 681.25,1735.5 691,1717 700.75,1698.75 710.5,1705 720.25,1707 730,1686.75 739.75,1743.5 749.5,1727 759.25,1690.75 769,1727.5 778.75,1756.25" fill="none" stroke="#ff00ff" stroke-width="1.7" stroke-linejoin="miter"/>
<polyline points="798,1721.5 807.75,1705 807.75,1705 817.5,1723.25 827.25,1668.75 837,1698.75 847,1710.75 856.5,1705 866.25,1664.5 876,1772 885.75,1746.25 895.5,1663.75 905,1638.25 914.75,1709.25 924.5,1701.25 925.25,1622" fill="none" stroke="#ff00ff" stroke-width="1.7" stroke-linejoin="miter"/>
<polyline points="932.5,1590 934.25,1432 936,1590" fill="none" stroke="#ff00ff" stroke-width="1.7" stroke-linejoin="miter"/>
<polyline points="944,1622 944,1678.75 953.75,1674.5 963.5,1707.5 973.25,1723.25 983,1725 992.75,1713 1002.5,1725 1012.25,1731.25 1022,1688.75 1031.75,1723.25 1041.5,1713 1051.25,1695 1061,1727.5 1070.75,1697 1080.5,1696.75 1090.25,1690.75 1100,1719.25 1109.75,1715.25 1119.5,1725 1129.25,1715.25 1139,1719.25 1148.75,1725 1158.5,1715 1168.25,1695 1178,1690.75 1187.75,1742" fill="none" stroke="#ff00ff" stroke-width="1.7" stroke-linejoin="miter"/>
<polyline points="1206.25,1715 1216,1723.25 1225.75,1719.25 1236,1735 1246.25,1678.75 1253.5,1699.25" fill="none" stroke="#ff00ff" stroke-width="1.7" stroke-linejoin="miter"/>
<rect x="169.35" y="157.75" width="17.3" height="1605.9" fill="none" stroke="#2cb02c" stroke-width="2.7"/>
<rect x="280.05" y="157.75" width="26.7" height="1605.9" fill="none" stroke="#000" stroke-width="2.7"/>
<rect x="421.85" y="157.75" width="15.8" height="1605.9" fill="none" stroke="#000" stroke-width="2.7"/>
<rect x="467.85" y="157.75" width="17.4" height="1605.9" fill="none" stroke="#7fd47f" stroke-width="2.7"/>
<rect x="517.6" y="157.75" width="16.55" height="1605.9" fill="none" stroke="#00f400" stroke-width="2.7"/>
<rect x="555.55" y="157.75" width="18.1" height="1605.9" fill="none" stroke="#7fd47f" stroke-width="2.7"/>
<rect x="606.35" y="157.75" width="15.5" height="1605.9" fill="none" stroke="#000" stroke-width="2.7"/>
<rect x="686.15" y="157.75" width="26.6" height="1605.9" fill="none" stroke="#000" stroke-width="2.7"/>
<rect x="719.35" y="157.75" width="27.1" height="1605.9" fill="none" stroke="#7fd47f" stroke-width="2.7"/>
<rect x="753.85" y="157.75" width="17.1" height="1605.9" fill="none" stroke="#000" stroke-width="2.7"/>
<rect x="809.35" y="157.75" width="33.8" height="1605.9" fill="none" stroke="#000" stroke-width="2.7"/>
<rect x="885.6" y="157.75" width="17.55" height="1605.9" fill="none" stroke="#7fd47f" stroke-width="2.7"/>
<rect x="1241.55" y="157.75" width="16.8" height="1605.9" fill="none" stroke="#7fd47f" stroke-width="2.7"/>
<text x="193.4" y="175.4" font-family='"Liberation Sans", sans-serif' font-weight="700" font-size="14.2" stroke="#000" stroke-width="0.3">E1</text>
<text x="283.7" y="175.4" font-family='"Liberation Sans", sans-serif' font-weight="700" font-size="14.2" stroke="#000" stroke-width="0.3">G1</text>
<text x="396" y="175.4" font-family='"Liberation Sans", sans-serif' font-weight="700" font-size="14.2" stroke="#000" stroke-width="0.3">G2</text>
<text x="468" y="175.4" font-family='"Liberation Sans", sans-serif' font-weight="700" font-size="14.2" stroke="#000" stroke-width="0.3">E2</text>
<text x="517" y="175.4" font-family='"Liberation Sans", sans-serif' font-weight="700" font-size="14.2" stroke="#000" stroke-width="0.3">E3</text>
<text x="556" y="175.4" font-family='"Liberation Sans", sans-serif' font-weight="700" font-size="14.2" stroke="#000" stroke-width="0.3">E4</text>
<text x="626" y="175.4" font-family='"Liberation Sans", sans-serif' font-weight="700" font-size="14.2" stroke="#000" stroke-width="0.3">G3</text>
<text x="689" y="175.4" font-family='"Liberation Sans", sans-serif' font-weight="700" font-size="14.2" stroke="#000" stroke-width="0.3">G4</text>
<text x="724" y="175.4" font-family='"Liberation Sans", sans-serif' font-weight="700" font-size="14.2" stroke="#000" stroke-width="0.3">E5</text>
<text x="774" y="175.4" font-family='"Liberation Sans", sans-serif' font-weight="700" font-size="14.2" stroke="#000" stroke-width="0.3">G5</text>
<text x="817" y="175.4" font-family='"Liberation Sans", sans-serif' font-weight="700" font-size="14.2" stroke="#000" stroke-width="0.3">G6</text>
<text x="909" y="175.4" font-family='"Liberation Sans", sans-serif' font-weight="700" font-size="14.2" stroke="#000" stroke-width="0.3">E6</text>
<text x="1263" y="175.4" font-family='"Liberation Sans", sans-serif' font-weight="700" font-size="14.2" stroke="#000" stroke-width="0.3">E7</text>
<text x="109" y="187.6" font-family='"Liberation Sans", sans-serif' font-weight="700" font-size="30.8" stroke="#000" stroke-width="0.5">A</text>
<text x="109" y="467" font-family='"Liberation Sans", sans-serif' font-weight="700" font-size="30.8" stroke="#000" stroke-width="0.5">B</text>
<text x="109" y="758" font-family='"Liberation Sans", sans-serif' font-weight="700" font-size="30.8" stroke="#000" stroke-width="0.5">C</text>
<text x="109" y="1096" font-family='"Liberation Sans", sans-serif' font-weight="700" font-size="30.8" stroke="#000" stroke-width="0.5">D</text>
<text x="109" y="1453.5" font-family='"Liberation Sans", sans-serif' font-weight="700" font-size="30.8" stroke="#000" stroke-width="0.5">E</text>
<path d="M91.7 149V422" stroke="#e39a76" stroke-width="2.1" fill="none"/>
<path d="M87.7 421.75H91.7" stroke="#dd6a3a" stroke-width="1.3"/>
<text x="83.2" y="429.46" text-anchor="end" letter-spacing="0.5" font-family='"Liberation Sans", sans-serif' font-size="19.3" fill="#d95319">0.00</text>
<path d="M87.7 364.12H91.7" stroke="#dd6a3a" stroke-width="1.3"/>
<text x="83.2" y="371.83" text-anchor="end" letter-spacing="0.5" font-family='"Liberation Sans", sans-serif' font-size="19.3" fill="#d95319">20.00</text>
<path d="M87.7 306.49H91.7" stroke="#dd6a3a" stroke-width="1.3"/>
<text x="83.2" y="314.2" text-anchor="end" letter-spacing="0.5" font-family='"Liberation Sans", sans-serif' font-size="19.3" fill="#d95319">40.00</text>
<path d="M87.7 248.86H91.7" stroke="#dd6a3a" stroke-width="1.3"/>
<text x="83.2" y="256.57" text-anchor="end" letter-spacing="0.5" font-family='"Liberation Sans", sans-serif' font-size="19.3" fill="#d95319">60.00</text>
<path d="M87.7 191.23H91.7" stroke="#dd6a3a" stroke-width="1.3"/>
<text x="83.2" y="198.94" text-anchor="end" letter-spacing="0.5" font-family='"Liberation Sans", sans-serif' font-size="19.3" fill="#d95319">80.00</text>
<path d="M1308 149V422" stroke="#a3c672" stroke-width="2.1" fill="none"/>
<path d="M1308 422H1312" stroke="#86b548" stroke-width="1.3"/>
<text x="1317" y="429.71" text-anchor="start" letter-spacing="0.5" font-family='"Liberation Sans", sans-serif' font-size="19.3" fill="#77ac30">0</text>
<path d="M1308 361.75H1312" stroke="#86b548" stroke-width="1.3"/>
<text x="1317" y="369.46" text-anchor="start" letter-spacing="0.5" font-family='"Liberation Sans", sans-serif' font-size="19.3" fill="#77ac30">200</text>
<path d="M1308 301.5H1312" stroke="#86b548" stroke-width="1.3"/>
<text x="1317" y="309.21" text-anchor="start" letter-spacing="0.5" font-family='"Liberation Sans", sans-serif' font-size="19.3" fill="#77ac30">400</text>
<path d="M1308 241.25H1312" stroke="#86b548" stroke-width="1.3"/>
<text x="1317" y="248.96" text-anchor="start" letter-spacing="0.5" font-family='"Liberation Sans", sans-serif' font-size="19.3" fill="#77ac30">600</text>
<path d="M1308 181H1312" stroke="#86b548" stroke-width="1.3"/>
<text x="1317" y="188.71" text-anchor="start" letter-spacing="0.5" font-family='"Liberation Sans", sans-serif' font-size="19.3" fill="#77ac30">800</text>
<path d="M91.3 447V719.5" stroke="#dd8a55" stroke-width="1.4" fill="none"/>
<path d="M87.3 719.3H91.3" stroke="#dd8a55" stroke-width="1.3"/>
<text x="81.8" y="725.8" text-anchor="end" font-family='"DejaVu Sans", "Liberation Sans", sans-serif' font-size="17.8" fill="#d2691e">0.0</text>
<path d="M87.3 665.35H91.3" stroke="#dd8a55" stroke-width="1.3"/>
<text x="81.8" y="671.85" text-anchor="end" font-family='"DejaVu Sans", "Liberation Sans", sans-serif' font-size="17.8" fill="#d2691e">0.5</text>
<path d="M87.3 611.4H91.3" stroke="#dd8a55" stroke-width="1.3"/>
<text x="81.8" y="617.9" text-anchor="end" font-family='"DejaVu Sans", "Liberation Sans", sans-serif' font-size="17.8" fill="#d2691e">1.0</text>
<path d="M87.3 557.45H91.3" stroke="#dd8a55" stroke-width="1.3"/>
<text x="81.8" y="563.95" text-anchor="end" font-family='"DejaVu Sans", "Liberation Sans", sans-serif' font-size="17.8" fill="#d2691e">1.5</text>
<path d="M87.3 503.5H91.3" stroke="#dd8a55" stroke-width="1.3"/>
<text x="81.8" y="510" text-anchor="end" font-family='"DejaVu Sans", "Liberation Sans", sans-serif' font-size="17.8" fill="#d2691e">2.0</text>
<path d="M87.3 449.55H91.3" stroke="#dd8a55" stroke-width="1.3"/>
<text x="81.8" y="456.05" text-anchor="end" font-family='"DejaVu Sans", "Liberation Sans", sans-serif' font-size="17.8" fill="#d2691e">2.5</text>
<path d="M1309 446V719.5" stroke="#69ae69" stroke-width="2.0" fill="none"/>
<path d="M1309 719H1313" stroke="#69ae69" stroke-width="1.3"/>
<text x="1318" y="725.5" text-anchor="start" font-family='"DejaVu Sans", "Liberation Sans", sans-serif' font-size="17.8" fill="#228b22">0.0</text>
<path d="M1309 650.6H1313" stroke="#69ae69" stroke-width="1.3"/>
<text x="1318" y="657.1" text-anchor="start" font-family='"DejaVu Sans", "Liberation Sans", sans-serif' font-size="17.8" fill="#228b22">0.2</text>
<path d="M1309 582.2H1313" stroke="#69ae69" stroke-width="1.3"/>
<text x="1318" y="588.7" text-anchor="start" font-family='"DejaVu Sans", "Liberation Sans", sans-serif' font-size="17.8" fill="#228b22">0.4</text>
<path d="M1309 513.8H1313" stroke="#69ae69" stroke-width="1.3"/>
<text x="1318" y="520.3" text-anchor="start" font-family='"DejaVu Sans", "Liberation Sans", sans-serif' font-size="17.8" fill="#228b22">0.6</text>
<path d="M1308 739V1073" stroke="#6a6ae6" stroke-width="2.1" fill="none"/>
<path d="M1308 1056.8H1312" stroke="#6a6ae6" stroke-width="1.3"/>
<text x="1317" y="1063.3" text-anchor="start" font-family='"DejaVu Sans", "Liberation Sans", sans-serif' font-size="17.8" fill="#0000f0">0</text>
<path d="M1308 981.2H1312" stroke="#6a6ae6" stroke-width="1.3"/>
<text x="1317" y="987.7" text-anchor="start" font-family='"DejaVu Sans", "Liberation Sans", sans-serif' font-size="17.8" fill="#0000f0">20</text>
<path d="M1308 905.6H1312" stroke="#6a6ae6" stroke-width="1.3"/>
<text x="1317" y="912.1" text-anchor="start" font-family='"DejaVu Sans", "Liberation Sans", sans-serif' font-size="17.8" fill="#0000f0">40</text>
<path d="M1308 830H1312" stroke="#6a6ae6" stroke-width="1.3"/>
<text x="1317" y="836.5" text-anchor="start" font-family='"DejaVu Sans", "Liberation Sans", sans-serif' font-size="17.8" fill="#0000f0">60</text>
<path d="M1308 754.4H1312" stroke="#6a6ae6" stroke-width="1.3"/>
<text x="1317" y="760.9" text-anchor="start" font-family='"DejaVu Sans", "Liberation Sans", sans-serif' font-size="17.8" fill="#0000f0">80</text>
<path d="M92.7 1082.5V1426.7" stroke="#555" stroke-width="1.8" fill="none"/>
<path d="M88.7 1426.5H92.7" stroke="#555" stroke-width="1.3"/>
<text x="83.7" y="1433" text-anchor="end" font-family='"DejaVu Sans", "Liberation Sans", sans-serif' font-size="17.8" fill="#000">10</text>
<path d="M88.7 1359.13H92.7" stroke="#555" stroke-width="1.3"/>
<text x="83.7" y="1365.63" text-anchor="end" font-family='"DejaVu Sans", "Liberation Sans", sans-serif' font-size="17.8" fill="#000">20</text>
<path d="M88.7 1291.76H92.7" stroke="#555" stroke-width="1.3"/>
<text x="83.7" y="1298.26" text-anchor="end" font-family='"DejaVu Sans", "Liberation Sans", sans-serif' font-size="17.8" fill="#000">30</text>
<path d="M88.7 1224.39H92.7" stroke="#555" stroke-width="1.3"/>
<text x="83.7" y="1230.89" text-anchor="end" font-family='"DejaVu Sans", "Liberation Sans", sans-serif' font-size="17.8" fill="#000">40</text>
<path d="M88.7 1157.02H92.7" stroke="#555" stroke-width="1.3"/>
<text x="83.7" y="1163.52" text-anchor="end" font-family='"DejaVu Sans", "Liberation Sans", sans-serif' font-size="17.8" fill="#000">50</text>
<path d="M88.7 1089.65H92.7" stroke="#555" stroke-width="1.3"/>
<text x="83.7" y="1096.15" text-anchor="end" font-family='"DejaVu Sans", "Liberation Sans", sans-serif' font-size="17.8" fill="#000">60</text>
<path d="M1309 1082.5V1418" stroke="#5a5ae8" stroke-width="1.6" fill="none"/>
<path d="M1309 1410H1313" stroke="#5a5ae8" stroke-width="1.3"/>
<text x="1318" y="1416.1" text-anchor="start" font-family='"DejaVu Sans", "Liberation Sans", sans-serif' font-size="17.8" fill="#0000f0">0</text>
<path d="M1309 1331H1313" stroke="#5a5ae8" stroke-width="1.3"/>
<text x="1318" y="1337.1" text-anchor="start" font-family='"DejaVu Sans", "Liberation Sans", sans-serif' font-size="17.8" fill="#0000f0">5</text>
<path d="M1309 1252H1313" stroke="#5a5ae8" stroke-width="1.3"/>
<text x="1318" y="1258.1" text-anchor="start" font-family='"DejaVu Sans", "Liberation Sans", sans-serif' font-size="17.8" fill="#0000f0">10</text>
<path d="M1309 1173H1313" stroke="#5a5ae8" stroke-width="1.3"/>
<text x="1318" y="1179.1" text-anchor="start" font-family='"DejaVu Sans", "Liberation Sans", sans-serif' font-size="17.8" fill="#0000f0">15</text>
<path d="M1309 1094H1313" stroke="#5a5ae8" stroke-width="1.3"/>
<text x="1318" y="1100.1" text-anchor="start" font-family='"DejaVu Sans", "Liberation Sans", sans-serif' font-size="17.8" fill="#0000f0">20</text>
<path d="M1309 1427.5V1588" stroke="#ff00ff" stroke-width="1.2" fill="none"/>
<path d="M1309 1465.5H1313" stroke="#ff00ff" stroke-width="1.3"/>
<text x="1318" y="1472" text-anchor="start" font-family='"DejaVu Sans", "Liberation Sans", sans-serif' font-size="17.8" fill="#ff00ff">12.0</text>
<path d="M1309 1527.5H1313" stroke="#ff00ff" stroke-width="1.3"/>
<text x="1318" y="1534" text-anchor="start" font-family='"DejaVu Sans", "Liberation Sans", sans-serif' font-size="17.8" fill="#ff00ff">11.5</text>
<path d="M1309 1590H1313" stroke="#ff00ff" stroke-width="1.3"/>
<text x="1318" y="1596.5" text-anchor="start" font-family='"DejaVu Sans", "Liberation Sans", sans-serif' font-size="17.8" fill="#ff00ff">11.0</text>
<path d="M1309 1622V1784.5" stroke="#ff00ff" stroke-width="1.2" fill="none"/>
<path d="M1309 1662.5H1313" stroke="#ff00ff" stroke-width="1.3"/>
<text x="1318" y="1669" text-anchor="start" font-family='"DejaVu Sans", "Liberation Sans", sans-serif' font-size="17.8" fill="#ff00ff">3.00</text>
<path d="M1309 1713H1313" stroke="#ff00ff" stroke-width="1.3"/>
<text x="1318" y="1719.5" text-anchor="start" font-family='"DejaVu Sans", "Liberation Sans", sans-serif' font-size="17.8" fill="#ff00ff">2.75</text>
<path d="M1309 1763.75H1313" stroke="#ff00ff" stroke-width="1.3"/>
<text x="1318" y="1770.25" text-anchor="start" font-family='"DejaVu Sans", "Liberation Sans", sans-serif' font-size="17.8" fill="#ff00ff">2.50</text>
<path d="M1301.5 1593.25L1316.5 1585.75M1301.5 1625.75L1316.5 1618.75" stroke="#ff00ff" stroke-width="1.2"/>
<text transform="translate(22.2,286.3) rotate(-90)" text-anchor="middle" font-family='"DejaVu Sans", "Liberation Sans", sans-serif' font-size="18" fill="#d95319">Dust flux (mg m<tspan dy="-6.5" font-size="12.6">−2</tspan><tspan dy="6.5" font-size="18"> </tspan>d<tspan dy="-6.5" font-size="12.6">−1</tspan><tspan dy="6.5" font-size="1">&#8203;</tspan>)</text>
<text transform="translate(1372,286) rotate(-90)" text-anchor="middle" font-family='"DejaVu Sans", "Liberation Sans", sans-serif' font-size="18" fill="#77ac30">OM flux (mg m<tspan dy="-6.5" font-size="12.6">−2</tspan><tspan dy="6.5" font-size="18"> </tspan>d<tspan dy="-6.5" font-size="12.6">−1</tspan><tspan dy="6.5" font-size="1">&#8203;</tspan>)</text>
<text transform="translate(45,583) rotate(-90)" text-anchor="middle" font-family='"DejaVu Sans", "Liberation Sans", sans-serif' font-size="18" fill="#d2691e">AOD</text>
<text transform="translate(1368,582.7) rotate(-90)" text-anchor="middle" font-family='"DejaVu Sans", "Liberation Sans", sans-serif' font-size="18" fill="#228b22">Chlorophyll a (mg <tspan font-style="italic">m</tspan><tspan dy="-6.5" font-size="12.6">−3</tspan><tspan dy="6.5" font-size="1">&#8203;</tspan>)</text>
<text transform="translate(1361,895) rotate(-90)" text-anchor="middle" font-family='"DejaVu Sans", "Liberation Sans", sans-serif' font-size="18" fill="#0000f0">Precipitation (mm <tspan font-style="italic">day</tspan><tspan dy="-6.5" font-size="12.6">−1</tspan><tspan dy="6.5" font-size="1">&#8203;</tspan>)</text>
<text transform="translate(52,1248.6) rotate(-90)" text-anchor="middle" font-family='"DejaVu Sans", "Liberation Sans", sans-serif' font-size="18" fill="#000">Modal grain size (µm)</text>
<text transform="translate(1359.8,1248.5) rotate(-90)" text-anchor="middle" font-family='"DejaVu Sans", "Liberation Sans", sans-serif' font-size="18" fill="#0000f0">Giant Grains (%)</text>
<text transform="translate(1399.2,1590) rotate(-90)" text-anchor="middle" font-family='"DejaVu Sans", "Liberation Sans", sans-serif' font-size="18" fill="#ff00ff">SD</text>
<g stroke="#444" stroke-width="1">
<path d="M92 145V149.5"/>
<path d="M167.94 145V149.5"/>
<path d="M243.88 145V149.5"/>
<path d="M319.82 145V149.5"/>
<path d="M395.76 145V149.5"/>
<path d="M471.7 145V149.5"/>
<path d="M547.64 145V149.5"/>
<path d="M623.58 145V149.5"/>
<path d="M699.52 145V149.5"/>
<path d="M775.46 145V149.5"/>
<path d="M851.4 145V149.5"/>
<path d="M927.34 145V149.5"/>
<path d="M1003.28 145V149.5"/>
<path d="M1079.22 145V149.5"/>
<path d="M1155.16 145V149.5"/>
<path d="M1231.1 145V149.5"/>
<path d="M1307.04 145V149.5"/>
</g>
<rect x="1415" y="1" width="1" height="1792" fill="#ececec"/>
</svg>
</body></html>
